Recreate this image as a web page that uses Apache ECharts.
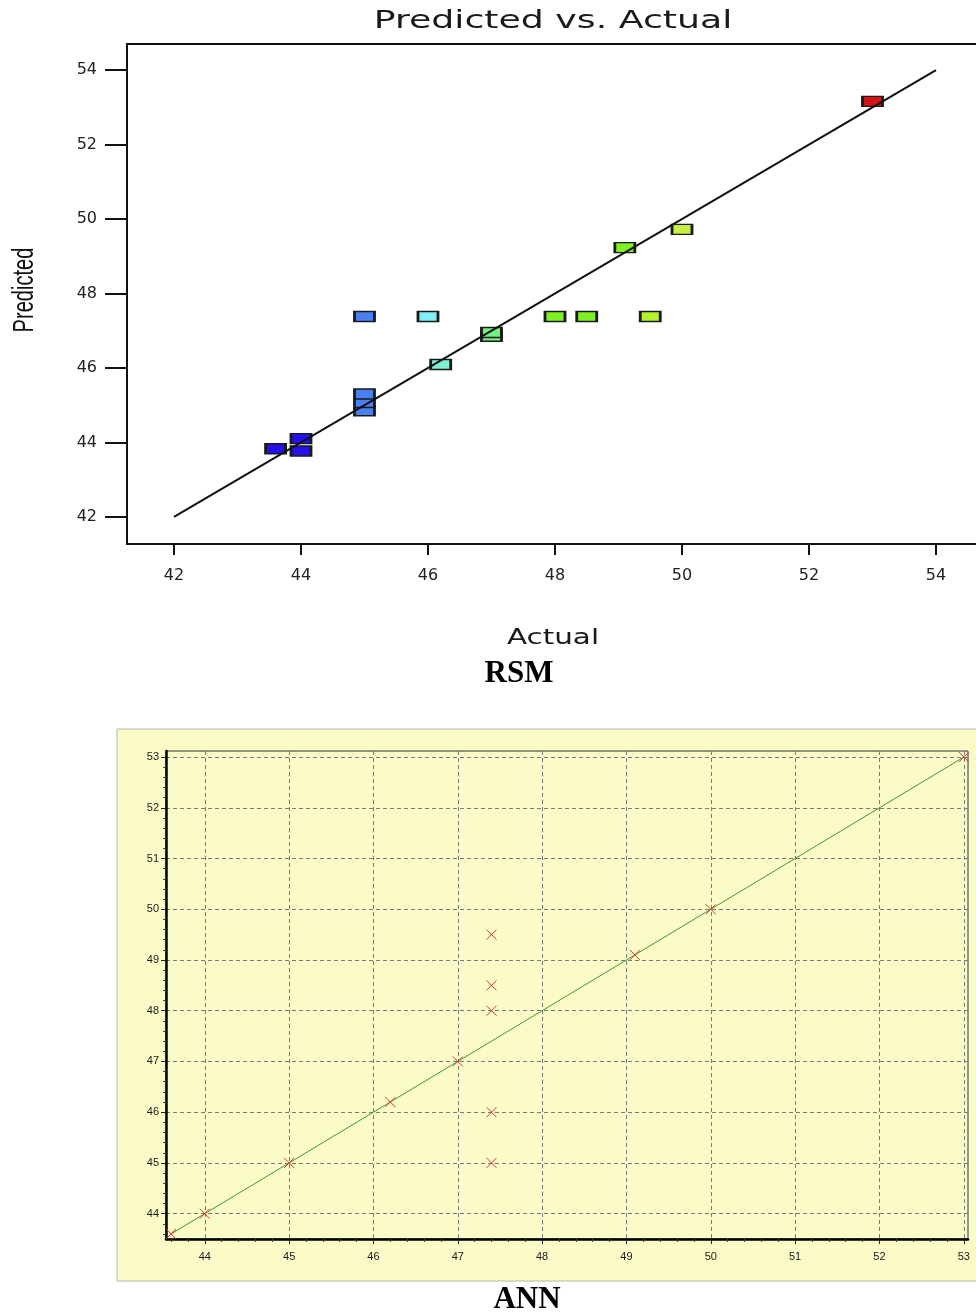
<!DOCTYPE html>
<html>
<head>
<meta charset="utf-8">
<title>Predicted vs. Actual</title>
<script src="https://cdn.jsdelivr.net/npm/echarts@6/dist/echarts.min.js"></script>
<style>
html, body {margin: 0; padding: 0; background: #fff;}
#main {width: 976px; height: 1314px;}
</style>
</head>
<body>
<div id="main"></div>
<script type="text/javascript">
// RSM panel (Design-Expert style)
var rsmActual    = [43.6, 44.0, 44.0, 45.0, 45.0, 45.0, 45.0, 46.0, 46.2, 47.0, 47.0, 48.0, 48.5, 49.5, 49.1, 50.0, 53.0];
var rsmPredicted = [43.83, 43.77, 44.1, 44.85, 45.07, 45.3, 47.38, 47.38, 46.09, 46.85, 46.95, 47.38, 47.38, 47.38, 49.23, 49.72, 53.16];
var rsmTicks = [42, 44, 46, 48, 50, 52, 54];

// ANN panel
var annActual    = [43.6, 44, 45, 46.2, 47, 47.4, 47.4, 47.4, 47.4, 47.4, 49.1, 50, 53];
var annPredicted = [43.6, 44, 45, 46.2, 47, 45, 46, 48, 48.5, 49.5, 49.1, 50, 53];
var annTicks = [44, 45, 46, 47, 48, 49, 50, 51, 52, 53];

function pairs(xs, ys) {
    return xs.map(function (x, i) { return [x, ys[i]]; });
}
function minorTicks(lo, hi) {
    var out = [];
    for (var v = Math.ceil(lo * 5); v <= Math.floor(hi * 5); v++) {
        if (v % 5 !== 0) out.push(v / 5);
    }
    return out;
}

var rsmLo = rsmTicks[0], rsmHi = rsmTicks[rsmTicks.length - 1];
var annLo = Math.min.apply(null, annActual), annHi = Math.max.apply(null, annActual);

// visible ranges (the RSM frame runs off the right edge of the picture)
var rsmX = {min: 41.26, max: 54.63};
var rsmY = {min: 41.27, max: 54.7};
var annX = {min: 43.54, max: 53.05};
var annY = {min: 43.5, max: 53.12};

var lblRsm = {fontFamily: 'DejaVu Sans', fontSize: 16, color: '#222'};
var lblAnn = {fontFamily: 'Liberation Sans', fontSize: 11, color: '#1a1a1a'};
var annGrid = {show: true, lineStyle: {color: '#7a7a7a', width: 1, type: [4, 3]}};

var chart = echarts.init(document.getElementById('main'));
var option = {
    animation: false,
    backgroundColor: '#fff',
    graphic: [
        {type: 'rect', z: -10, shape: {x: 117, y: 729, width: 875, height: 552},
         style: {fill: '#fbfbc8', stroke: '#b4b4b4', lineWidth: 1}},
        {type: 'text', x: 553, y: 21, scaleX: 1.45,
         style: {text: 'Predicted vs. Actual', font: '25px "DejaVu Sans"', fill: '#1a1a1a', align: 'center', verticalAlign: 'middle'}},
        {type: 'text', x: 25, y: 290, rotation: Math.PI / 2, scaleX: 0.67,
         style: {text: 'Predicted', font: '30px "Liberation Sans"', fill: '#111', align: 'center', verticalAlign: 'middle'}},
        {type: 'text', x: 553, y: 639, scaleX: 1.4,
         style: {text: 'Actual', font: '21px "DejaVu Sans"', fill: '#1a1a1a', align: 'center', verticalAlign: 'middle'}},
        {type: 'text', x: 519, y: 674,
         style: {text: 'RSM', font: 'bold 31px "Liberation Serif"', fill: '#000', align: 'center', verticalAlign: 'middle'}},
        {type: 'text', x: 527, y: 1300,
         style: {text: 'ANN', font: 'bold 31px "Liberation Serif"', fill: '#000', align: 'center', verticalAlign: 'middle'}}
    ],
    grid: [
        {left: 127, top: 44, right: 0, bottom: 770},
        {left: 166, top: 751, right: 8, bottom: 75, show: true, borderColor: '#333', borderWidth: 1, backgroundColor: 'transparent'}
    ],
    xAxis: [
        {gridIndex: 0, type: 'value', min: rsmX.min, max: rsmX.max,
         axisLine: {show: true, onZero: false, lineStyle: {color: '#111', width: 2}},
         axisTick: {show: true, customValues: rsmTicks, length: 11, lineStyle: {color: '#111', width: 2}},
         axisLabel: Object.assign({customValues: rsmTicks, margin: 24}, lblRsm),
         splitLine: {show: false}},
        {gridIndex: 1, type: 'value', min: annX.min, max: annX.max,
         axisLine: {show: true, onZero: false, lineStyle: {color: '#000', width: 2.5}},
         axisTick: {show: true, customValues: annTicks, length: 5, lineStyle: {color: '#222', width: 1}},
         axisLabel: Object.assign({customValues: annTicks, margin: 12}, lblAnn),
         splitLine: annGrid},
        {gridIndex: 1, type: 'value', min: annX.min, max: annX.max, position: 'bottom',
         axisLine: {show: false},
         axisTick: {show: true, customValues: minorTicks(annX.min, annX.max), length: 3, lineStyle: {color: '#444', width: 1}},
         axisLabel: {show: false},
         splitLine: {show: false}},
        // top edge of the RSM frame
        {gridIndex: 0, type: 'value', min: rsmX.min, max: rsmX.max, position: 'top',
         axisLine: {show: true, onZero: false, lineStyle: {color: '#111', width: 2}},
         axisTick: {show: false}, axisLabel: {show: false}, splitLine: {show: false}}
    ],
    yAxis: [
        {gridIndex: 0, type: 'value', min: rsmY.min, max: rsmY.max,
         axisLine: {show: true, onZero: false, lineStyle: {color: '#111', width: 2}},
         axisTick: {show: true, customValues: rsmTicks, length: 22, lineStyle: {color: '#111', width: 2}},
         axisLabel: Object.assign({customValues: rsmTicks, margin: 30}, lblRsm),
         splitLine: {show: false}},
        {gridIndex: 1, type: 'value', min: annY.min, max: annY.max,
         axisLine: {show: true, onZero: false, lineStyle: {color: '#000', width: 2.5}},
         axisTick: {show: true, customValues: annTicks, length: 5, lineStyle: {color: '#222', width: 1}},
         axisLabel: Object.assign({customValues: annTicks, margin: 7}, lblAnn),
         splitLine: annGrid},
        {gridIndex: 1, type: 'value', min: annY.min, max: annY.max, position: 'left',
         axisLine: {show: false},
         axisTick: {show: true, customValues: minorTicks(annY.min, annY.max), length: 3, lineStyle: {color: '#444', width: 1}},
         axisLabel: {show: false},
         splitLine: {show: false}}
    ],
    visualMap: [{
        type: 'piecewise', show: false, seriesIndex: 1, dimension: 0,
        pieces: [
            {lt: 44.5, color: '#2412ee'},
            {gte: 44.5, lt: 45.5, color: '#4a7ff0'},
            {gte: 45.5, lt: 46.1, color: '#82eef8'},
            {gte: 46.1, lt: 46.6, color: '#7ff0d4'},
            {gte: 46.6, lt: 47.5, color: '#74f07c'},
            {gte: 47.5, lt: 49.3, color: '#7ef024'},
            {gte: 49.3, lt: 49.8, color: '#b2f030'},
            {gte: 49.8, lt: 51, color: '#c8f040'},
            {gte: 51, color: '#d41414'}
        ]
    }],
    series: [
        {type: 'line', xAxisIndex: 0, yAxisIndex: 0, z: 5, symbol: 'none', silent: true,
         data: [[rsmLo, rsmLo], [rsmHi, rsmHi]],
         lineStyle: {color: '#111', width: 2}},
        {type: 'scatter', xAxisIndex: 0, yAxisIndex: 0, z: 3,
         symbol: 'rect', symbolSize: [20, 10],
         data: pairs(rsmActual, rsmPredicted),
         itemStyle: {borderColor: '#1a1a1a', borderWidth: 2, opacity: 1}},
        {type: 'line', xAxisIndex: 1, yAxisIndex: 1, z: 3, symbol: 'none', silent: true,
         data: [[annLo, annLo], [annHi, annHi]],
         lineStyle: {color: '#3d9a2a', width: 1}},
        {type: 'scatter', xAxisIndex: 1, yAxisIndex: 1, z: 4,
         symbol: 'path://M0,0L10,10M10,0L0,10', symbolSize: 10,
         data: pairs(annActual, annPredicted),
         itemStyle: {color: 'transparent', borderColor: '#e03434', borderWidth: 1, opacity: 1}}
    ]
};
chart.setOption(option);
</script>
</body>
</html>
